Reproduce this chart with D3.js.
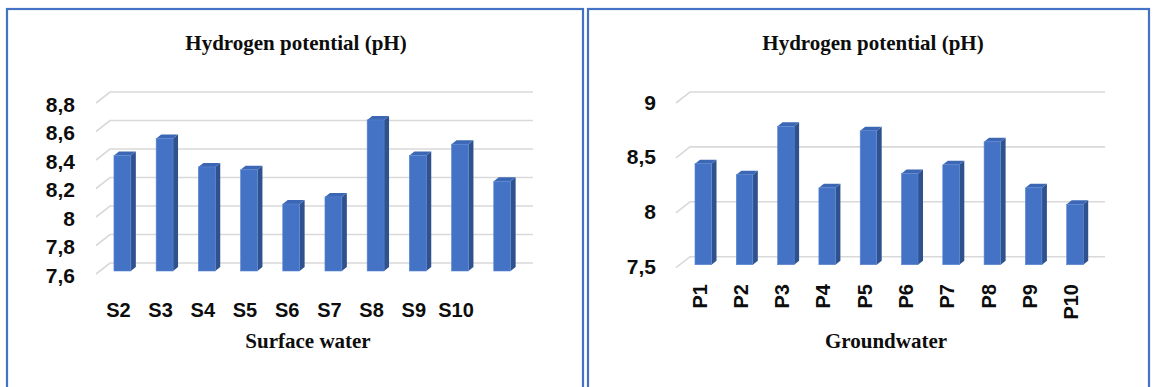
<!DOCTYPE html>
<html>
<head>
<meta charset="utf-8">
<script src="https://cdn.jsdelivr.net/npm/d3@7"></script>
<style>
  body { margin: 0; background: #fff; }
  svg { display: block; }
</style>
</head>
<body>
<script>
// data
let surfaceSites = ["S2", "S3", "S4", "S5", "S6", "S7", "S8", "S9", "S10", ""];
let surfacePH = [8.41, 8.53, 8.33, 8.31, 8.07, 8.12, 8.66, 8.41, 8.49, 8.23];
let surfaceTicks = [7.6, 7.8, 8.0, 8.2, 8.4, 8.6, 8.8];

let groundSites = ["P1", "P2", "P3", "P4", "P5", "P6", "P7", "P8", "P9", "P10"];
let groundPH = [8.42, 8.32, 8.76, 8.20, 8.72, 8.33, 8.41, 8.62, 8.20, 8.05];
let groundTicks = [7.5, 8, 8.5, 9];

let width = 1153,
    height = 387;

let svg = d3.select("body").append("svg")
    .attr("width", width)
    .attr("height", height);

let fmt = v => String(v).replace(".", ",");

// 3d offsets (back wall -> front edge) and bar depth
let wallDx = 14, wallDy = 11;
let barDx = 5, barDy = 4, barFront = 8;

let drawPanel = (p) => {
  let g = svg.append("g");

  // panel frame
  g.append("rect")
    .attr("x", p.left).attr("y", 9)
    .attr("width", p.right - p.left).attr("height", 400)
    .attr("fill", "none")
    .attr("stroke", "#4472c4")
    .attr("stroke-width", 2.2);

  let y = d3.scaleLinear().domain(p.domain).range(p.yRange);
  let x = d3.scaleBand()
      .domain(d3.range(p.values.length))
      .range(p.xRange)
      .paddingInner(0.6)
      .paddingOuter(0.3);
  let bw = x.bandwidth();

  // gridlines: diagonal on the side wall, then the back wall
  let grid = g.append("g");
  p.ticks.forEach(t => {
    let yb = y(t);
    grid.append("path")
      .attr("d", `M${p.wallX - wallDx},${yb + wallDy}L${p.wallX},${yb}L${p.wallEnd},${yb}`)
      .attr("fill", "none")
      .attr("stroke", "#d9d9d9")
      .attr("stroke-width", 1.6);
    g.append("text")
      .attr("x", p.labelX)
      .attr("y", yb + wallDy + p.labelDy)
      .attr("text-anchor", "end")
      .attr("dominant-baseline", "middle")
      .style("font", "bold 21px 'Liberation Sans', Arial, sans-serif")
      .attr("fill", "#0d0d0d")
      .text(fmt(t));
  });

  let base = y(p.domain[0]) + barFront;
  let bars = g.append("g")
    .selectAll("g")
    .data(p.values)
    .enter()
    .append("g");

  // side face
  bars.append("path")
    .attr("d", (v, i) => {
      let x0 = x(i) + bw, yt = y(v) + barFront;
      return `M${x0},${yt}L${x0 + barDx},${yt - barDy}L${x0 + barDx},${base - barDy}L${x0},${base}Z`;
    })
    .attr("fill", "#2f528f");
  // top face
  bars.append("path")
    .attr("d", (v, i) => {
      let x0 = x(i), yt = y(v) + barFront;
      return `M${x0},${yt}L${x0 + barDx},${yt - barDy}L${x0 + bw + barDx},${yt - barDy}L${x0 + bw},${yt}Z`;
    })
    .attr("fill", "#3c67b4");
  // front face
  bars.append("rect")
    .attr("x", (v, i) => x(i))
    .attr("y", v => y(v) + barFront)
    .attr("width", bw)
    .attr("height", v => base - (y(v) + barFront))
    .attr("fill", "#4472c4")
    .attr("stroke", "#5b86d3")
    .attr("stroke-width", 0.6);

  // category labels
  let labels = g.append("g")
    .selectAll("text")
    .data(p.sites)
    .enter()
    .append("text")
    .style("font", "bold 20px 'Liberation Sans', Arial, sans-serif")
    .attr("fill", "#0d0d0d")
    .text(d => d);

  if (p.rotate) {
    labels
      .attr("transform", (d, i) => `translate(${x(i) + bw / 2 - 2},${p.catY}) rotate(-90)`)
      .attr("text-anchor", "end")
      .attr("dominant-baseline", "middle");
  } else {
    labels
      .attr("x", (d, i) => x(i) + bw / 2 - 4)
      .attr("y", p.catY)
      .attr("text-anchor", "middle");
  }

  // titles
  g.append("text")
    .attr("x", p.titleX).attr("y", 50)
    .attr("text-anchor", "middle")
    .style("font", "bold 21px 'Liberation Serif', 'Times New Roman', serif")
    .attr("fill", "#0d0d0d")
    .text("Hydrogen potential (pH)");

  g.append("text")
    .attr("x", p.axisTitleX).attr("y", 348)
    .attr("text-anchor", "middle")
    .style("font", "bold 21px 'Liberation Serif', 'Times New Roman', serif")
    .attr("fill", "#0d0d0d")
    .text(p.axisTitle);
};

drawPanel({
  left: 7, right: 583,
  values: surfacePH, sites: surfaceSites, ticks: surfaceTicks,
  domain: [7.6, 8.8], yRange: [263, 92],
  xRange: [101.3, 523.3],
  wallX: 110, wallEnd: 533,
  labelX: 75, labelDy: 3,
  catY: 317, rotate: false,
  titleX: 296, axisTitleX: 308, axisTitle: "Surface water"
});

drawPanel({
  left: 588, right: 1149,
  values: groundPH, sites: groundSites, ticks: groundTicks,
  domain: [7.5, 9], yRange: [256.7, 92],
  xRange: [682.6, 1095.6],
  wallX: 690, wallEnd: 1105,
  labelX: 656, labelDy: 1,
  catY: 284, rotate: true,
  titleX: 873, axisTitleX: 886, axisTitle: "Groundwater"
});
</script>
</body>
</html>
